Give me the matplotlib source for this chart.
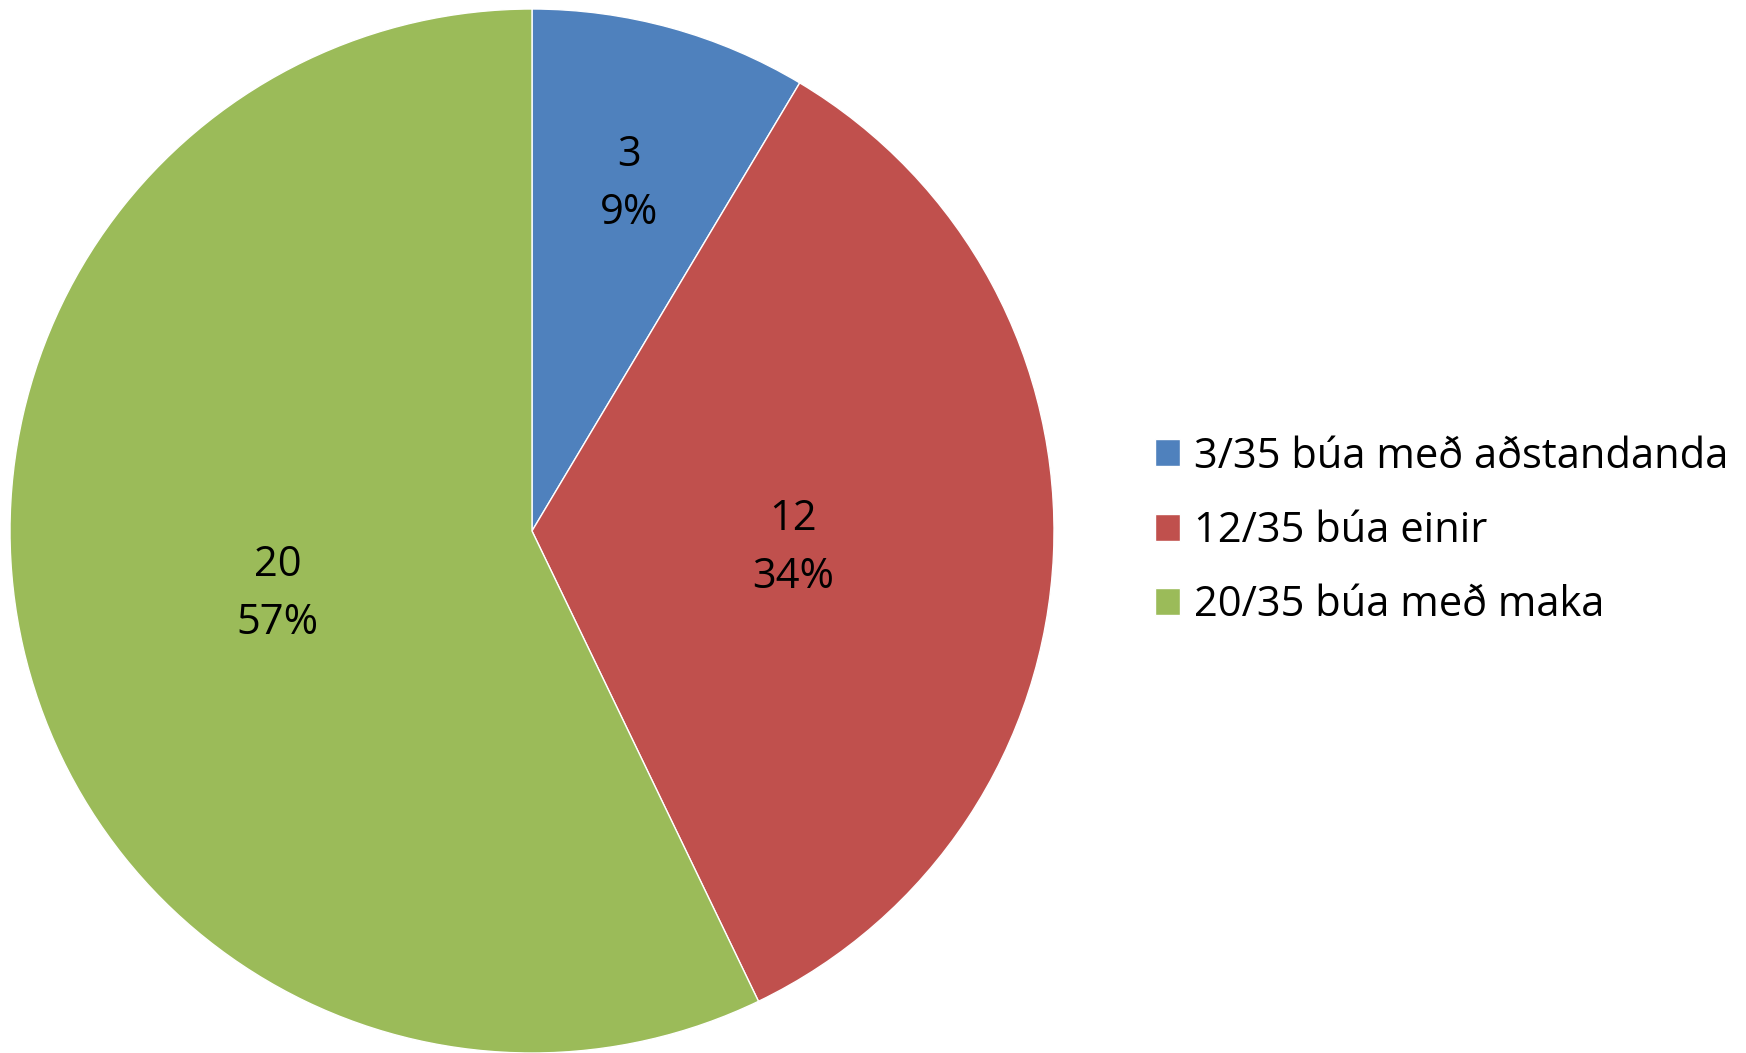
import numpy as np
import matplotlib
matplotlib.use("Agg")
import matplotlib.pyplot as plt

# data
labels = ['3/35 búa með aðstandanda', '12/35 búa einir', '20/35 búa með maka']
values = [3, 12, 20]
colors = ['#4F81BD', '#C0504D', '#9BBB59']

plt.rcParams['font.family'] = ['Open Sans', 'DejaVu Sans']
FS = 30

fig = plt.figure(figsize=(17.46, 10.53), dpi=100)
ax = fig.add_axes([10 / 1746, 0 / 1053, 1044 / 1746, 1044 / 1053])

wedges, _ = ax.pie(values, colors=colors, startangle=90, counterclock=False,
                   radius=1.0, wedgeprops=dict(edgecolor='white', linewidth=1))
ax.set_xlim(-1, 1)
ax.set_ylim(-1, 1)
ax.set_aspect('equal')
ax.axis('off')

# data labels (Excel "best fit" puts the small slice's label further out)
total = sum(values)
dists = [0.70, 0.50, 0.50]
for w, v, d in zip(wedges, values, dists):
    ang = np.deg2rad((w.theta1 + w.theta2) / 2)
    x, y = d * np.cos(ang), d * np.sin(ang)
    ax.text(x, y - 0.01, f"{v}\n{v / total * 100:.0f}%", ha='center', va='center',
            fontsize=FS, linespacing=1.5)

fig.legend(wedges, labels, loc='center left', bbox_to_anchor=(1117 / 1746, 1 - 531 / 1053),
           frameon=False, fontsize=FS, handlelength=0.62, handleheight=0.62,
           handletextpad=0.32, labelspacing=0.78)

fig.savefig('out.png', dpi=100)
